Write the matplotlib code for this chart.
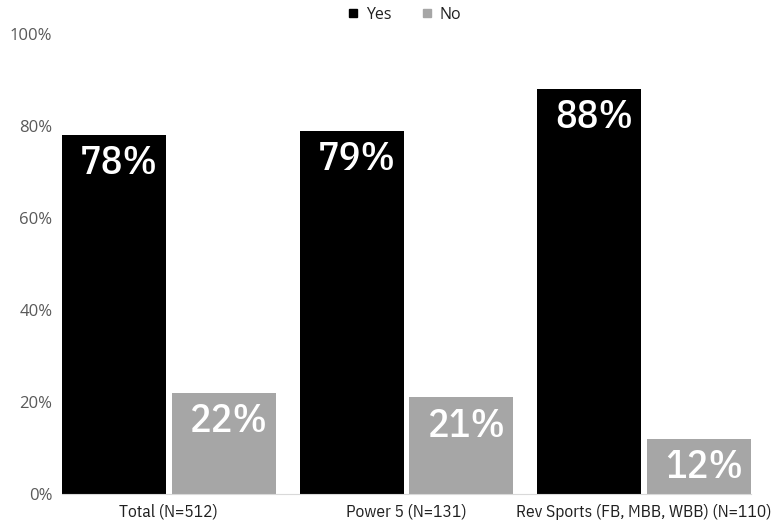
import numpy as np
import matplotlib.pyplot as plt
from matplotlib.lines import Line2D

# dados
categorias = ['Total (N=512)', 'Power 5 (N=131)', 'Rev Sports (FB, MBB, WBB) (N=110)']
sim = [78, 79, 88]
nao = [22, 21, 12]
series = ['Yes', 'No']
cores = ['#000000', '#a6a6a6']

# fontes
estreita = ['IBM Plex Sans Condensed', 'DejaVu Sans']
normal = ['Open Sans', 'DejaVu Sans']

fig = plt.figure(figsize=(7.71, 5.25), dpi=100)
ax = fig.add_axes([0.0804, 0.059, 0.8936, 0.876])

x = np.arange(len(categorias))
w = 0.437
gap = 0.025
off = (w + gap) / 2

b1 = ax.bar(x - off, sim, w, color=cores[0])
b2 = ax.bar(x + off, nao, w, color=cores[1])

# rótulos de valor dentro das barras
for barras in (b1, b2):
    for b in barras:
        v = b.get_height()
        ax.text(b.get_x() + b.get_width() / 2 + 0.022, v - 2.2, '{:.0f}%'.format(v),
                ha='center', va='top', color='white', fontsize=29,
                fontweight='medium', family=estreita)

ax.set_ylim(0, 100)
ax.set_xlim(-off - w / 2, len(categorias) - 1 + off + w / 2)
ax.set_yticks(np.arange(0, 101, 20))
ax.set_yticklabels(['{}%'.format(t) for t in range(0, 101, 20)], color='#595959',
                   fontsize=12, family=normal)
ax.set_xticks(x)
ax.set_xticklabels(categorias, color='#202020', fontsize=12.5, family=estreita)
ax.tick_params(length=0, pad=7)
ax.tick_params(axis='y', pad=7)
for s in ['top', 'right', 'left']:
    ax.spines[s].set_visible(False)
ax.spines['bottom'].set_color('#d9d9d9')

handles = [Line2D([], [], marker='s', ls='', color=c, markersize=5.5) for c in cores]
fig.legend(handles, series, loc='upper center', bbox_to_anchor=(0.522, 1.014), ncol=2,
           frameon=False, prop={'family': normal, 'size': 11.5}, handletextpad=0.2,
           handlelength=1.2, columnspacing=1.6, labelcolor='#202020')

fig.savefig('out.png', dpi=100)
